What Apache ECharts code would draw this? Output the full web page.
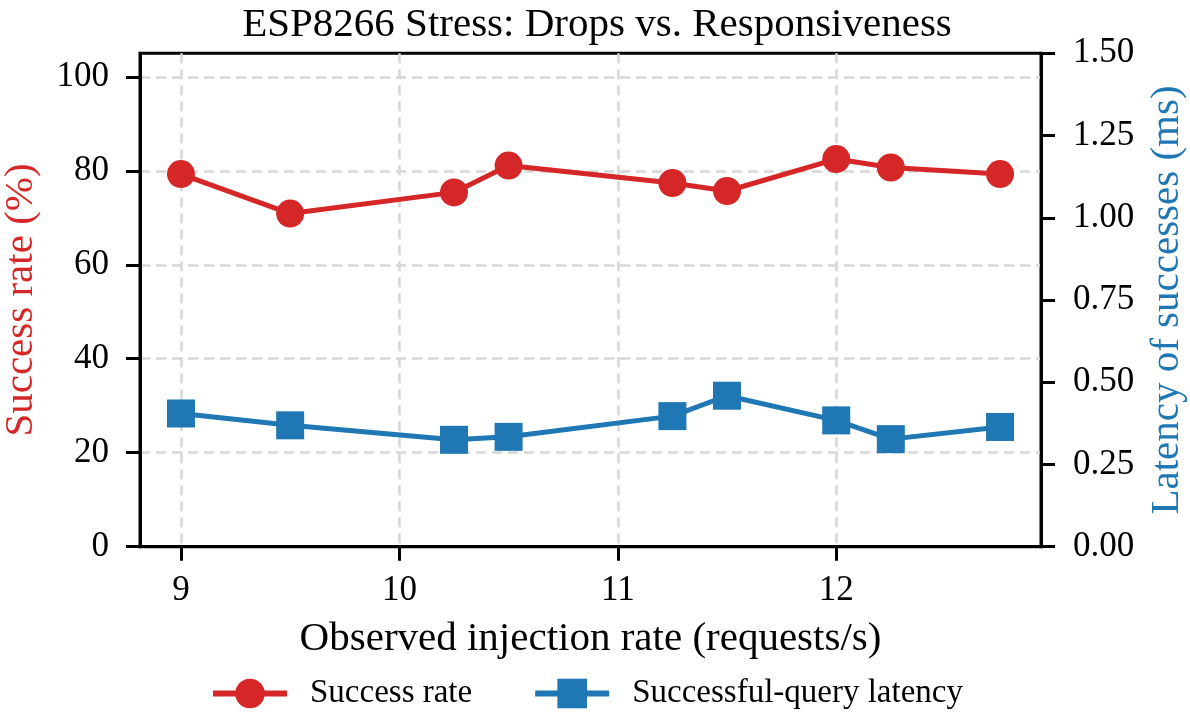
<!DOCTYPE html>
<html>
<head>
<meta charset="utf-8">
<script src="https://cdn.jsdelivr.net/npm/echarts@6/dist/echarts.min.js"></script>
<style>
  html, body { margin: 0; padding: 0; background: #fff; }
  #chart { width: 1190px; height: 716px; }
</style>
</head>
<body>
<div id="chart"></div>
<script>
// 观测到的注入速率 (requests/s)
var injectionRate = [9, 9.5, 10.25, 10.5, 11.25, 11.5, 12, 12.25, 12.75];
// 成功率 (%)
var successRate = [79.3, 70.9, 75.4, 81.1, 77.4, 75.7, 82.5, 80.7, 79.3];
// 成功请求延迟 (ms)
var latencyMs = [0.405, 0.369, 0.325, 0.334, 0.397, 0.459, 0.384, 0.327, 0.364];

var xTicks = [9, 10, 11, 12];
var leftTicks = [0, 20, 40, 60, 80, 100];

var RED = '#d62728', BLUE = '#1f77b4';
var FONT = 'Liberation Serif';

var chart = echarts.init(document.getElementById('chart'));

var line1 = [], line2 = [];
for (var i = 0; i < injectionRate.length; i++) {
    line1[i] = [injectionRate[i], successRate[i]];
    line2[i] = [injectionRate[i], latencyMs[i]];
}

var gridLine = { show: true, lineStyle: { color: '#d6d6d6', width: 2.5, type: [10, 6] } };

var option = {
    backgroundColor: '#fff',
    animation: false,
    textStyle: { fontFamily: FONT },
    title: {
        text: 'ESP8266 Stress: Drops vs. Responsiveness',
        left: 592, textAlign: 'center', top: 0,
        textStyle: { fontFamily: FONT, fontSize: 41, fontWeight: 'normal', color: '#000' }
    },
    legend: {
        top: 677, left: 210, padding: 0,
        itemWidth: 74, itemHeight: 37, itemGap: 60,
        lineStyle: { width: 6 },
        textStyle: { fontFamily: FONT, fontSize: 33, color: '#000', padding: [0, 0, 0, 18] },
        data: ['Success rate', 'Successful-query latency']
    },
    grid: {
        left: 140, right: 149, top: 53.3, bottom: 169.3,
        outerBoundsMode: 'none',
        show: true, borderColor: '#000', borderWidth: 3
    },
    xAxis: {
        type: 'value',
        min: 8.8125, max: 12.9375,
        name: 'Observed injection rate (requests/s)',
        nameLocation: 'middle', nameGap: 72,
        nameTextStyle: { fontFamily: FONT, fontSize: 41, color: '#000' },
        axisLine: { show: true, lineStyle: { color: '#000', width: 3 } },
        axisTick: { show: true, inside: false, length: 14, customValues: xTicks, lineStyle: { color: '#000', width: 3 } },
        axisLabel: { customValues: xTicks, margin: 27, fontFamily: FONT, fontSize: 35, color: '#000' },
        splitLine: gridLine
    },
    yAxis: [{
        type: 'value',
        min: 0, max: 105,
        position: 'left',
        name: 'Success rate (%)',
        nameLocation: 'middle', nameGap: 98,
        nameTextStyle: { fontFamily: FONT, fontSize: 41, color: RED },
        axisLine: { show: true, lineStyle: { color: '#000', width: 3 } },
        axisTick: { show: true, length: 14, customValues: leftTicks, lineStyle: { color: '#000', width: 3 } },
        axisLabel: { customValues: leftTicks, margin: 31, fontFamily: FONT, fontSize: 35, color: '#000' },
        splitLine: gridLine
    }, {
        type: 'value',
        min: 0, max: 1.5, interval: 0.25,
        position: 'right',
        name: 'Latency of successes (ms)',
        nameLocation: 'middle', nameGap: 106,
        nameTextStyle: { fontFamily: FONT, fontSize: 41, color: BLUE },
        axisLine: { show: true, lineStyle: { color: '#000', width: 3 } },
        axisTick: { show: true, length: 14, lineStyle: { color: '#000', width: 3 } },
        axisLabel: {
            margin: 32, fontFamily: FONT, fontSize: 35, color: '#000',
            formatter: function (v) { return v.toFixed(2); }
        },
        splitLine: { show: false }
    }],
    series: [{
        name: 'Success rate',
        type: 'line',
        yAxisIndex: 0,
        data: line1,
        symbol: 'circle', symbolSize: 28,
        itemStyle: { color: RED },
        lineStyle: { color: RED, width: 5 }
    }, {
        name: 'Successful-query latency',
        type: 'line',
        yAxisIndex: 1,
        data: line2,
        symbol: 'rect', symbolSize: 28,
        itemStyle: { color: BLUE },
        lineStyle: { color: BLUE, width: 5 }
    }]
};
chart.setOption(option);
</script>
</body>
</html>
